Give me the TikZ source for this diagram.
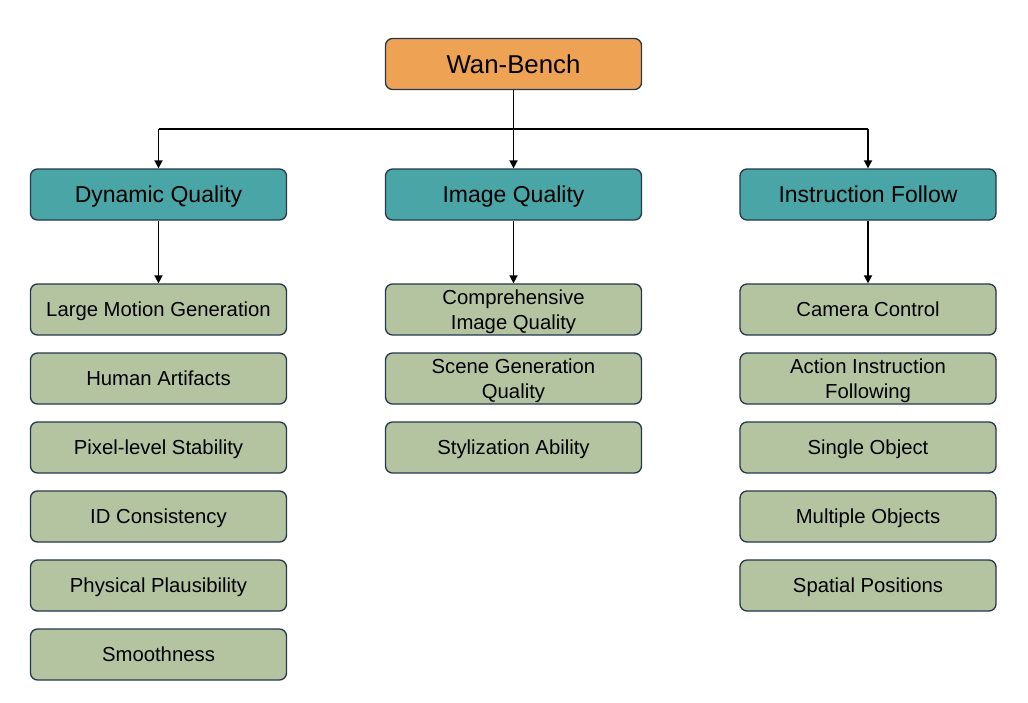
\documentclass[tikz,border=0pt]{standalone}
\usepackage{fontspec}
\setmainfont{Liberation Sans}
\usetikzlibrary{arrows.meta,calc}
\definecolor{rootfill}{HTML}{EEA254}
\definecolor{catfill}{HTML}{4AA5A6}
\definecolor{leaffill}{HTML}{B5C4A0}
\definecolor{edgecol}{HTML}{25384D}
\tikzset{
  basebox/.style={draw=edgecol, line width=1.3pt, rounded corners=7pt, minimum width=256pt, minimum height=51pt, inner sep=0pt, align=center, text=black, text depth=0pt},
  rootbox/.style={basebox, fill=rootfill, font=\fontsize{25.8}{30}\selectfont},
  catbox/.style={basebox, fill=catfill, font=\fontsize{23}{27}\selectfont},
  leafbox/.style={basebox, fill=leaffill, font=\fontsize{20.3}{24.5}\selectfont},
  conn/.style={draw=black, line width=1.7pt},
  arr/.style={conn, -{Triangle[length=8pt,width=8pt]}}
}
\begin{document}
\begin{tikzpicture}[x=1pt,y=1pt]
\useasboundingbox (0,0) rectangle (1028,-702);
\node[rootbox] (root) at (513.5,-64) {Wan-Bench};
\node[catbox] (dyn) at (158.5,-194.5) {Dynamic Quality};
\node[catbox] (img) at (513.5,-194.5) {Image Quality};
\node[catbox] (ins) at (868,-194.5) {Instruction Follow};
% dynamic leaves
\node[leafbox] (d1) at (158.5,-309.5) {Large Motion Generation};
\node[leafbox] (d2) at (158.5,-378.5) {Human Artifacts};
\node[leafbox] (d3) at (158.5,-447.5) {Pixel-level Stability};
\node[leafbox] (d4) at (158.5,-516.5) {ID Consistency};
\node[leafbox] (d5) at (158.5,-585.5) {Physical Plausibility};
\node[leafbox] (d6) at (158.5,-654.5) {Smoothness};
% image leaves
\node[leafbox] (i1) at (513.5,-309.5) {Comprehensive\\Image Quality};
\node[leafbox] (i2) at (513.5,-378.5) {Scene Generation\\Quality};
\node[leafbox] (i3) at (513.5,-447.5) {Stylization Ability};
% instruction leaves
\node[leafbox] (n1) at (868,-309.5) {Camera Control};
\node[leafbox] (n2) at (868,-378.5) {Action Instruction\\Following};
\node[leafbox] (n3) at (868,-447.5) {Single Object};
\node[leafbox] (n4) at (868,-516.5) {Multiple Objects};
\node[leafbox] (n5) at (868,-585.5) {Spatial Positions};
% connectors
\coordinate (bus) at (513.5,-129);
\draw[conn] (bus -| dyn.north) -- (bus -| ins.north);
\draw[arr] (root.south) -- (img.north);
\draw[arr] (bus -| dyn.north) -- (dyn.north);
\draw[arr] (bus -| ins.north) -- (ins.north);
\draw[arr] (dyn.south) -- (d1.north);
\draw[arr] (img.south) -- (i1.north);
\draw[arr] (ins.south) -- (n1.north);
\end{tikzpicture}
\end{document}
